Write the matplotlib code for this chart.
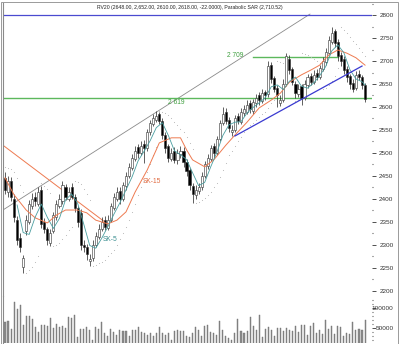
#!/usr/bin/python3

import matplotlib
matplotlib.use("Agg")
import matplotlib.pyplot as plt
from matplotlib.patches import Rectangle
from matplotlib.ticker import MultipleLocator, FixedLocator

#_____________________________________________________________________________
# daily candles

opens = [2445, 2415, 2440, 2400, 2355, 2315, 2252, 2330, 2350, 2385,
         2405, 2390, 2420, 2350, 2335, 2305, 2330, 2360, 2385, 2395,
         2425, 2400, 2425, 2405, 2380, 2370, 2300, 2295, 2265, 2272,
         2300, 2318, 2335, 2355, 2338, 2355, 2380, 2400, 2418, 2400,
         2428, 2450, 2468, 2488, 2512, 2500, 2520, 2510, 2545, 2563,
         2572, 2585, 2570, 2540, 2515, 2488, 2505, 2485, 2498, 2505,
         2480, 2462, 2428, 2408, 2418, 2425, 2450, 2472, 2488, 2515,
         2500, 2530, 2565, 2590, 2572, 2545, 2550, 2580, 2568, 2588,
         2590, 2608, 2592, 2608, 2625, 2612, 2632, 2628, 2692, 2662,
         2642, 2608, 2615, 2650, 2705, 2682, 2650, 2628, 2645, 2620,
         2648, 2668, 2655, 2675, 2665, 2683, 2698, 2718, 2742, 2765,
         2742, 2712, 2705, 2682, 2668, 2652, 2642, 2672, 2665, 2648]

closes = [2420, 2440, 2405, 2360, 2310, 2295, 2272, 2355, 2390, 2400,
          2395, 2415, 2345, 2335, 2310, 2325, 2365, 2390, 2400, 2430,
          2405, 2415, 2405, 2380, 2350, 2300, 2295, 2280, 2270, 2300,
          2320, 2335, 2350, 2340, 2355, 2385, 2405, 2415, 2400, 2430,
          2450, 2470, 2490, 2505, 2500, 2515, 2510, 2545, 2565, 2575,
          2580, 2570, 2540, 2510, 2490, 2500, 2485, 2500, 2505, 2480,
          2460, 2430, 2410, 2420, 2425, 2450, 2475, 2490, 2510, 2500,
          2530, 2565, 2585, 2570, 2555, 2550, 2575, 2570, 2590, 2595,
          2605, 2595, 2610, 2620, 2615, 2630, 2625, 2690, 2660, 2640,
          2625, 2615, 2650, 2710, 2680, 2655, 2630, 2640, 2620, 2650,
          2665, 2655, 2670, 2665, 2685, 2700, 2720, 2745, 2760, 2740,
          2710, 2700, 2680, 2665, 2650, 2640, 2670, 2665, 2648, 2618]

highs = [2458, 2450, 2448, 2410, 2362, 2325, 2278, 2365, 2398, 2412,
         2415, 2425, 2428, 2358, 2340, 2335, 2372, 2398, 2410, 2440,
         2432, 2425, 2435, 2410, 2385, 2378, 2310, 2302, 2280, 2310,
         2328, 2345, 2360, 2362, 2365, 2392, 2412, 2425, 2425, 2438,
         2458, 2478, 2498, 2515, 2520, 2525, 2528, 2552, 2572, 2585,
         2592, 2590, 2575, 2545, 2520, 2510, 2512, 2508, 2515, 2512,
         2486, 2468, 2435, 2430, 2435, 2458, 2482, 2498, 2518, 2522,
         2538, 2572, 2600, 2598, 2578, 2560, 2582, 2588, 2598, 2605,
         2615, 2615, 2618, 2628, 2632, 2640, 2638, 2700, 2698, 2668,
         2648, 2625, 2660, 2718, 2712, 2688, 2656, 2650, 2650, 2658,
         2672, 2675, 2680, 2682, 2692, 2708, 2728, 2755, 2775, 2770,
         2748, 2720, 2710, 2690, 2672, 2660, 2678, 2680, 2670, 2652]

lows = [2410, 2405, 2395, 2350, 2300, 2285, 2240, 2322, 2345, 2378,
        2385, 2385, 2338, 2325, 2300, 2298, 2325, 2355, 2380, 2390,
        2398, 2395, 2400, 2372, 2340, 2290, 2285, 2268, 2255, 2265,
        2295, 2312, 2330, 2332, 2332, 2350, 2375, 2395, 2390, 2395,
        2420, 2445, 2462, 2482, 2490, 2495, 2478, 2505, 2540, 2558,
        2568, 2562, 2530, 2500, 2480, 2482, 2478, 2475, 2490, 2470,
        2450, 2420, 2392, 2400, 2410, 2420, 2445, 2465, 2482, 2490,
        2495, 2525, 2560, 2562, 2545, 2538, 2545, 2562, 2562, 2580,
        2585, 2588, 2585, 2600, 2605, 2608, 2615, 2622, 2652, 2632,
        2600, 2602, 2610, 2645, 2672, 2648, 2620, 2622, 2605, 2615,
        2642, 2648, 2650, 2658, 2660, 2678, 2692, 2712, 2738, 2730,
        2700, 2690, 2672, 2655, 2640, 2632, 2638, 2658, 2640, 2610]

volumes = [65000, 66000, 47000, 115000, 97000, 107000, 57000, 79000, 79000, 72000,
           52000, 40000, 57000, 58000, 55000, 74000, 50000, 60000, 52000, 54000,
           50000, 76000, 75000, 82000, 27000, 48000, 47000, 52000, 45000, 19000,
           52000, 47000, 65000, 37000, 30000, 48000, 40000, 33000, 44000, 43000,
           42000, 30000, 45000, 44000, 51000, 40000, 36000, 33000, 37000, 30000,
           38000, 52000, 36000, 32000, 38000, 20000, 43000, 44000, 43000, 42000,
           30000, 28000, 38000, 52000, 45000, 30000, 55000, 58000, 40000, 37000,
           33000, 66000, 45000, 30000, 25000, 20000, 38000, 71000, 43000, 38000,
           43000, 76000, 55000, 45000, 82000, 28000, 47000, 53000, 45000, 30000,
           50000, 49000, 42000, 50000, 44000, 42000, 55000, 40000, 57000, 56000,
           32000, 55000, 63000, 37000, 44000, 35000, 70000, 48000, 55000, 35000,
           55000, 53000, 30000, 38000, 35000, 64000, 45000, 48000, 45000, 70000]

# parabolic SAR dots
sar = [2470, 2468, 2465, 2458, 2445, 2430, 2415,
       2240, 2245, 2252, 2262, 2275,
       2435, 2428, 2422, 2414,
       2298, 2300, 2305, 2312, 2322, 2332, 2340,
       2440, 2438, 2432, 2422, 2410, 2398,
       2255, 2257, 2260, 2264, 2268, 2275, 2282, 2290, 2300, 2312, 2325,
       2340, 2355, 2372, 2390, 2408, 2425, 2440, 2458, 2475, 2495, 2512,
       2592, 2590, 2588, 2582, 2575, 2568, 2560, 2552, 2545, 2535, 2522, 2508,
       2392, 2394, 2397, 2402, 2408, 2415, 2425, 2435, 2448, 2462, 2478,
       2495, 2505, 2515, 2525, 2535, 2545, 2553, 2560, 2566, 2572, 2578,
       2584, 2590, 2598, 2608, 2615,
       2700, 2698, 2695,
       2600, 2603, 2607, 2612, 2615,
       2718, 2715, 2712, 2708, 2705, 2700, 2696,
       2640, 2642, 2648, 2656, 2668, 2685,
       2775, 2768, 2760, 2752, 2744, 2736, 2728, 2719, 2711]

# SK-5 line (teal)
sk5_idx = [4, 6, 8, 10, 12, 14, 16, 18, 20, 22, 24, 26, 28, 30, 32, 34, 36, 38,
           40, 42, 44, 46, 48, 50, 52, 54, 56, 58, 60, 62, 64, 66, 68, 70, 72,
           74, 76, 78, 80, 82, 84, 86, 88, 90, 92, 94, 96, 98, 100, 102, 104,
           106, 108, 110, 112, 114, 116, 118, 119]
sk5 = [2387, 2327, 2323, 2361, 2389, 2360, 2336, 2358, 2398, 2411, 2391, 2346,
       2299, 2293, 2315, 2340, 2367, 2392, 2420, 2448, 2483, 2504, 2527, 2555,
       2566, 2538, 2505, 2496, 2486, 2457, 2429, 2436, 2470, 2501, 2538, 2561,
       2567, 2568, 2587, 2599, 2609, 2620, 2644, 2648, 2638, 2656, 2665, 2645,
       2641, 2652, 2668, 2688, 2722, 2735, 2718, 2681, 2661, 2655, 2648]

# SK-15 line (orange)
sk15_idx = [0, 3, 7, 10, 14, 17, 20, 24, 27, 30, 34, 37, 40, 43, 47, 50, 51,
            55, 58, 60, 62, 66, 69, 73, 76, 80, 84, 88, 91, 94, 98, 101, 104,
            107, 110, 113, 116, 119]
sk15 = [2446, 2409, 2376, 2359, 2348, 2365, 2376, 2376, 2370, 2354, 2346, 2354,
        2372, 2415, 2463, 2507, 2522, 2533, 2533, 2507, 2485, 2470, 2485, 2517,
        2539, 2567, 2598, 2615, 2630, 2654, 2670, 2680, 2691, 2713, 2724, 2717,
        2707, 2691]

# drawn trend lines (index, price)
gray_x = [-0.7, 100.8]
gray_y = [2376, 2802]
blue_x = [76, 118]
blue_y = [2537, 2689]
orange_x = [-0.7, 33]
orange_y = [2517, 2350]
res_x = [82, 110]
res_level = 2709
sup_level = 2619
top_level = 2800

title = ("RV20 (2648.00, 2,652.00, 2610.00, 2618.00, -22.0000), "
         "Parabolic SAR (2,710.52)")

#_____________________________________________________________________________
def main():

    plt.rcParams["font.family"] = ["Liberation Sans", "DejaVu Sans"]

    fig = plt.figure(figsize=(4.0, 3.44), dpi=100)
    fig.patch.set_facecolor("white")

    ax = fig.add_axes([3/400, 1-296/344, 369/400, 293/344])
    axv = fig.add_axes([3/400, 1/344, 369/400, 47/344], sharex=ax)

    n = len(closes)
    xs = list(range(n))

    #price candles
    for i in xs:
        o, c = opens[i], closes[i]
        ax.vlines(i, lows[i], highs[i], color="#202020", lw=0.5, zorder=3)
        fc = "white" if c >= o else "black"
        ax.bar(i, abs(c - o) if abs(c - o) > 1 else 1, bottom=min(o, c),
               width=0.7, facecolor=fc, edgecolor="#303030", lw=0.4, zorder=4)

    #SAR dots
    ax.scatter(xs, sar, s=0.6, color="#b8b8b8", zorder=2, linewidths=0)

    #moving lines
    ax.plot(sk15_idx, sk15, color="#ee7a50", lw=0.7, zorder=5)
    ax.plot(sk5_idx, sk5, color="#4a9ea0", lw=0.6, zorder=5)

    #trend lines
    ax.plot(gray_x, gray_y, color="#8a8a8a", lw=0.6, zorder=1)
    ax.plot(blue_x, blue_y, color="#3a3ad0", lw=0.9, zorder=6)
    ax.plot(orange_x, orange_y, color="#ee7a50", lw=0.7, zorder=1)
    ax.axhline(top_level, color="#4a4ad0", lw=0.9, zorder=1)
    ax.axhline(sup_level, color="#5cb85c", lw=1.0, zorder=1)
    ax.plot(res_x, [res_level, res_level], color="#5cb85c", lw=1.0, zorder=1)

    #labels
    ax.text(56.5, 2609, "2 619", color="#3f9f3f", fontsize=4.8,
            ha="center", va="center")
    ax.text(76, 2713, "2 709", color="#3f9f3f", fontsize=4.8,
            ha="center", va="center")
    ax.text(48.4, 2437, "SK-15", color="#e06a40", fontsize=4.8,
            ha="center", va="center")
    ax.text(34.7, 2311, "SK-5", color="#3a8e90", fontsize=4.8,
            ha="center", va="center")
    ax.text(0.505, 1 - 4/293, title, transform=ax.transAxes, fontsize=3.7,
            ha="center", va="center", color="#222222")

    ax.set_xlim(-0.66, 121.3)
    ax.set_ylim(2189.1, 2826.1)

    #volume
    axv.bar(xs, volumes, width=0.35, color="#8c8c8c", edgecolor="#707070",
            lw=0.3)
    axv.set_ylim(11750, 129250)

    for a in (ax, axv):
        a.set_facecolor("none")
        a.yaxis.tick_right()
        a.tick_params(axis="y", which="major", length=3, width=0.6,
                      colors="#333333", labelsize=4.6, pad=12.5)
        a.tick_params(axis="y", which="minor", length=1, width=0.8,
                      colors="#555555")
        a.tick_params(axis="x", which="both", bottom=False, labelbottom=False)
        for s in ["right", "bottom", "top"]:
            a.spines[s].set_visible(False)
        a.spines["left"].set_color("#8a8a8a")
        a.spines["left"].set_linewidth(0.8)

    ax.yaxis.set_major_locator(FixedLocator([2200 + 50*k for k in range(13)]))
    ax.yaxis.set_minor_locator(MultipleLocator(25))
    axv.yaxis.set_major_locator(FixedLocator([50000, 100000]))
    axv.yaxis.set_minor_locator(MultipleLocator(10000))

    fig.canvas.draw()
    for a in (ax, axv):
        for lab in a.get_yticklabels():
            lab.set_horizontalalignment("right")

    #outer frame
    fig.patches.append(Rectangle((0.5/400, 0.5/344), 397.5/400, 342/344,
                                 transform=fig.transFigure, fill=False,
                                 edgecolor="#9a9a9a", lw=0.7))

    fig.savefig("out.png", dpi=100)
    plt.close()

#main

#_____________________________________________________________________________
if __name__ == "__main__":

    main()
